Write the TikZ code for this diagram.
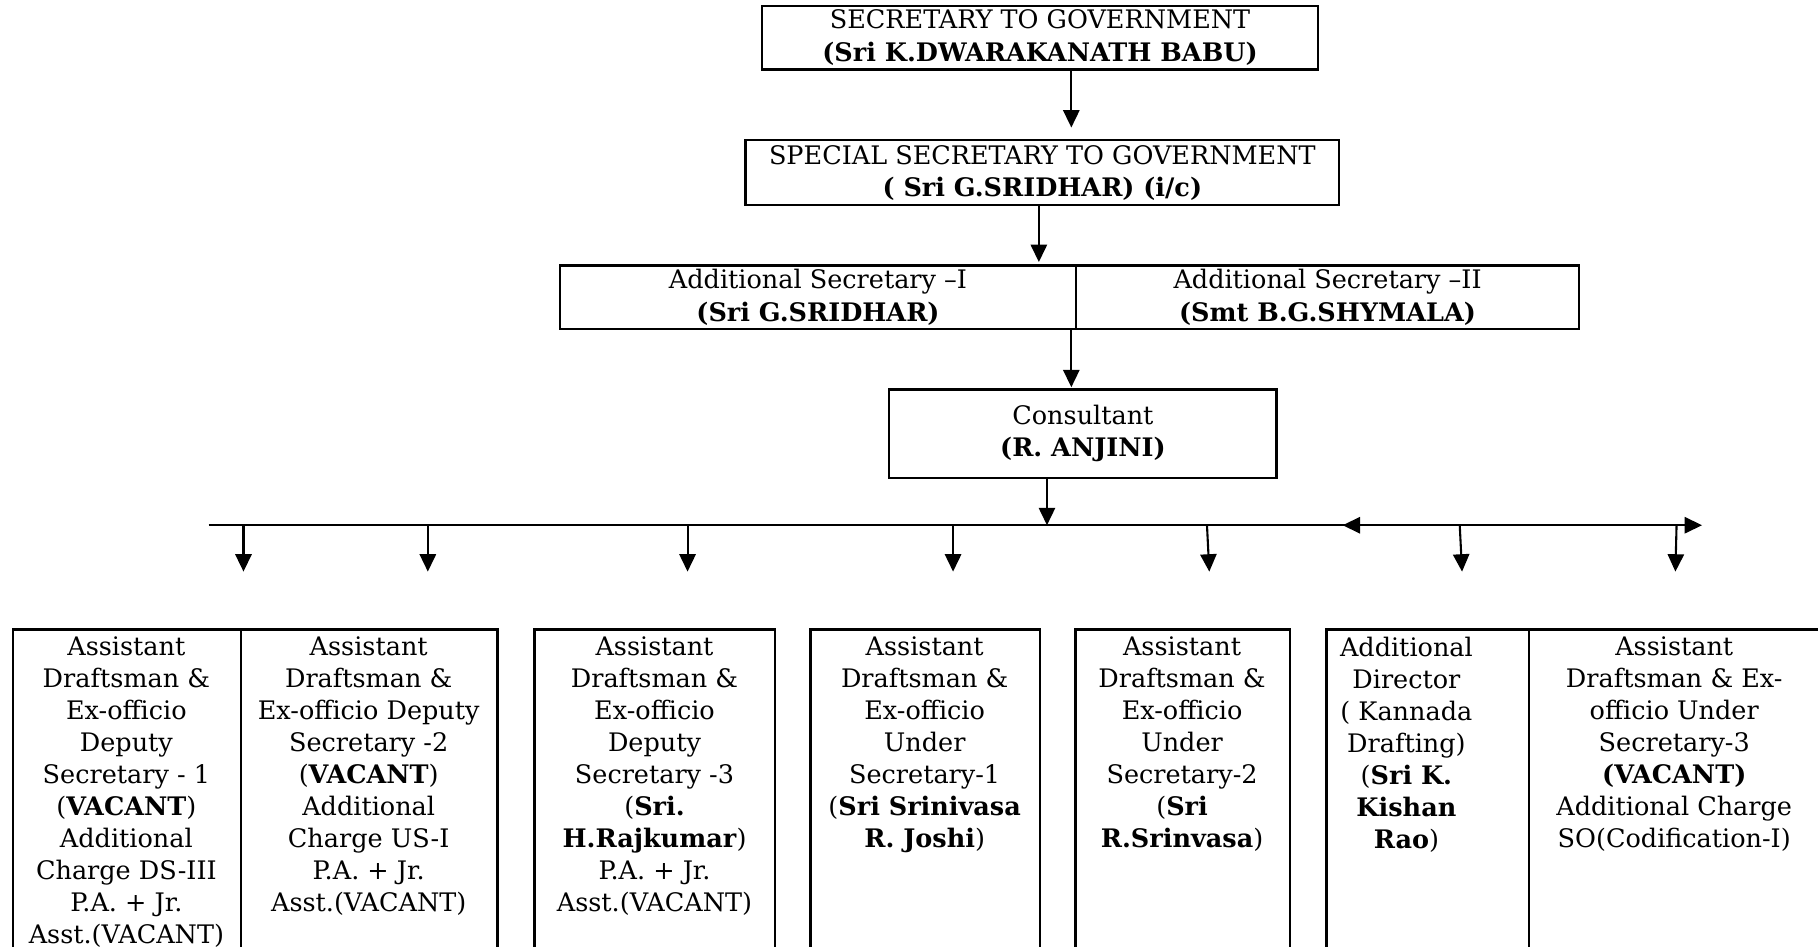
\documentclass[tikz,border=0pt]{standalone}
\usepackage{fontspec}
\setmainfont{DejaVu Serif}
\usetikzlibrary{arrows.meta}
\begin{document}
\begin{tikzpicture}[x=0.5pt,y=-0.5pt,
  hbox/.style={draw,line width=1pt,inner sep=0pt,outer sep=0pt,align=center,font=\fontsize{11}{14}\selectfont},
  bbox/.style={draw,line width=1pt,inner sep=0pt,outer sep=0pt,anchor=north west,minimum height=160pt},
  btext/.style={inner sep=0pt,anchor=north,align=center,font=\fontsize{11}{13.8}\selectfont},
  arr/.style={line width=0.9pt,-{Triangle[length=7.5pt,width=7pt]}},
  ln/.style={line width=0.9pt}]
\useasboundingbox (0,0) rectangle (1568,816);
\clip (0,0) rectangle (1568,816);
% header boxes
\node[hbox,minimum width=240pt,minimum height=27.5pt] (sec) at (897,32.5) {SECRETARY TO GOVERNMENT\\\textbf{(Sri K.DWARAKANATH BABU)}};
\node[hbox,minimum width=256pt,minimum height=28pt] (spl) at (899,149) {SPECIAL SECRETARY TO GOVERNMENT\\\textbf{( Sri G.SRIDHAR) (i/c)}};
\node[hbox,minimum width=222.5pt,minimum height=27.5pt] (as1) at (705.5,256.5) {Additional Secretary --I\\\textbf{(Sri G.SRIDHAR)}};
\node[hbox,minimum width=217pt,minimum height=27.5pt] (as2) at (1145,256.5) {Additional Secretary --II\\\textbf{(Smt B.G.SHYMALA)}};
\node[hbox,minimum width=167pt,minimum height=38pt] (con) at (934,374) {Consultant\\\textbf{(R. ANJINI)}};
% connector end points
\coordinate (e1) at (924,110);
\coordinate (e2) at (896,226);
\coordinate (e3) at (924,334);
\coordinate (e4) at (903,453);
\draw[arr] (sec.south -| e1) -- (e1);
\draw[arr] (spl.south -| e2) -- (e2);
\draw[ln] (as1.south east) ++(0,0) coordinate (asb);
\draw[arr] (as2.south -| e3) -- (e3);
\draw[arr] (con.south -| e4) -- (e4);
% horizontal bar
\coordinate (hs) at (180,453);
\coordinate (he) at (1468,453);
\coordinate (hm) at (1158,453);
\coordinate (hx) at (1300,453);
\draw[arr] (hs) -- (he);
\draw[arr] (hx) -- (hm);
% down arrows
\foreach \i/\xa/\xb in {1/210/210,2/369/369,3/593/593,4/822/822,5/1041/1043,6/1259/1261,7/1446/1445}{
  \coordinate (d\i) at (\xa,453);
  \coordinate (f\i) at (\xb,493);
  \draw[arr] (d\i) -- (f\i);
}
% bottom boxes
\node[bbox,minimum width=98.5pt] (b1) at (11,543) {};
\node[bbox,minimum width=110.5pt] (b2) at (208,543) {};
\node[bbox,minimum width=103.75pt] (b3) at (461,543) {};
\node[bbox,minimum width=99pt] (b4) at (699,543) {};
\node[bbox,minimum width=92.5pt] (b5) at (927.5,543) {};
\node[bbox,minimum width=87.5pt] (b6) at (1144,543) {};
\node[bbox,minimum width=150pt] (b7) at (1319,543) {};
\node[btext] (t1) at (109,549) {Assistant\\Draftsman \&\\Ex-officio\\Deputy\\Secretary - 1\\(\textbf{VACANT})\\Additional\\Charge DS-III\\P.A. + Jr.\\Asst.(VACANT)};
\node[btext] (t2) at (318,549) {Assistant\\Draftsman \&\\Ex-officio Deputy\\Secretary -2\\(\textbf{VACANT})\\Additional\\Charge US-I\\P.A. + Jr.\\Asst.(VACANT)};
\node[btext] (t3) at (564.5,549) {Assistant\\Draftsman \&\\Ex-officio\\Deputy\\Secretary -3\\(\textbf{Sri.}\\\textbf{H.Rajkumar})\\P.A. + Jr.\\Asst.(VACANT)};
\node[btext] (t4) at (797.5,549) {Assistant\\Draftsman \&\\Ex-officio\\Under\\Secretary-1\\(\textbf{Sri Srinivasa}\\\textbf{R. Joshi})};
\node[btext] (t5) at (1019.5,549) {Assistant\\Draftsman \&\\Ex-officio\\Under\\Secretary-2\\(\textbf{Sri}\\\textbf{R.Srinvasa})};
\node[btext] (t6) at (1213,549) {Additional\\Director\\( Kannada\\Drafting)\\(\textbf{Sri K.}\\\textbf{Kishan}\\\textbf{Rao})};
\node[btext] (t7) at (1444,549) {Assistant\\Draftsman \& Ex-\\officio Under\\Secretary-3\\\textbf{(VACANT)}\\Additional Charge\\SO(Codification-I)};
\end{tikzpicture}
\end{document}
